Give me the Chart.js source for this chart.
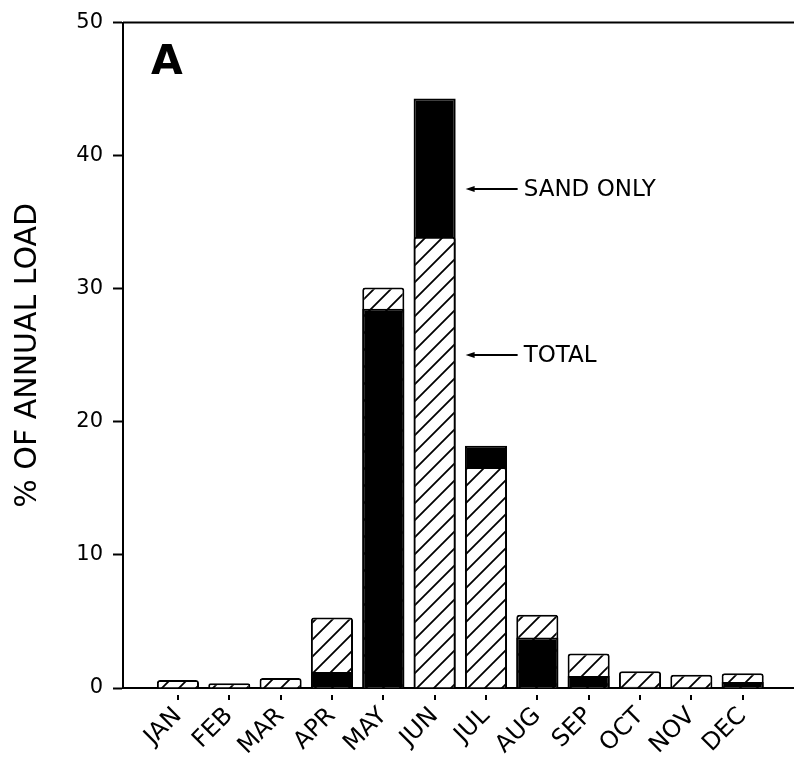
<!DOCTYPE html>
<html>
<head>
<meta charset="utf-8">
<title>Monthly sediment load</title>
<script src="https://cdn.jsdelivr.net/npm/chart.js@4.4.1/dist/chart.umd.min.js"></script>
<style>
  html, body { margin: 0; padding: 0; background: #fff; }
  #wrap { width: 794px; height: 767px; position: relative; }
</style>
</head>
<body>
<div id="wrap"><canvas id="loadChart"></canvas></div>
<script>
// ---- data ----
const months = ['JAN', 'FEB', 'MAR', 'APR', 'MAY', 'JUN', 'JUL', 'AUG', 'SEP', 'OCT', 'NOV', 'DEC'];
const totalLoad = [0.6, 0.35, 0.75, 5.3, 30.1, 33.9, 16.6, 5.5, 2.6, 1.25, 1.0, 1.1];
const sandLoad = [0, 0, 0, 1.2, 28.5, 44.3, 18.2, 3.8, 0.9, 0.1, 0, 0.45];
const yTickStep = 10;
const yMax = 50;
const panelLetter = 'A';
// callouts point at the JUN bars
const calloutMonth = 5;
const calloutLabels = ['SAND ONLY', 'TOTAL'];
const calloutLevels = [37.5, 25];

const FONT = '"DejaVu Sans", sans-serif';

// diagonal hatch used for the TOTAL bars
function makeHatch() {
    const size = 17;
    const c = document.createElement('canvas');
    c.width = size;
    c.height = size;
    const g = c.getContext('2d');
    g.fillStyle = '#fff';
    g.fillRect(0, 0, size, size);
    g.strokeStyle = '#000';
    g.lineWidth = 1.8;
    g.beginPath();
    [-size, 0, size].forEach(k => {
        g.moveTo(k - 2, size + 2);
        g.lineTo(k + size + 2, -2);
    });
    g.stroke();
    return g.createPattern(c, 'repeat');
}
const hatch = makeHatch();

// the shorter of the two bars is drawn in front of the taller one
const sandInFront = months.map((m, i) => sandLoad[i] <= totalLoad[i]);
const frontData = months.map((m, i) => ({ x: i, y: Math.min(totalLoad[i], sandLoad[i]) }));
const backData = months.map((m, i) => ({ x: i, y: Math.max(totalLoad[i], sandLoad[i]) }));

const isSandBar = (front, i) => front ? sandInFront[i] : !sandInFront[i];

function barStyle(front) {
    return {
        backgroundColor: ctx => isSandBar(front, ctx.dataIndex) ? '#000' : hatch,
        borderColor: '#000',
        borderWidth: 2,
        borderRadius: ctx => isSandBar(front, ctx.dataIndex) ? 0 : 3,
        grouped: false,
        barPercentage: 1,
        categoryPercentage: 0.82
    };
}

const decorations = {
    id: 'decorations',
    afterDatasetsDraw(chart) {
        const { ctx, chartArea, scales: { x, y } } = chart;
        ctx.save();
        ctx.strokeStyle = '#000';
        ctx.fillStyle = '#000';
        ctx.lineWidth = 2;

        // top frame line
        ctx.beginPath();
        ctx.moveTo(chartArea.left, chartArea.top);
        ctx.lineTo(chartArea.right + 1, chartArea.top);
        ctx.stroke();

        // small detached month ticks below the axis
        ctx.beginPath();
        months.forEach((m, i) => {
            const px = Math.round(x.getPixelForValue(i));
            ctx.moveTo(px, chartArea.bottom + 7);
            ctx.lineTo(px, chartArea.bottom + 12);
        });
        ctx.stroke();

        // panel letter
        ctx.font = 'bold 41px ' + FONT;
        ctx.textBaseline = 'alphabetic';
        ctx.textAlign = 'left';
        ctx.fillText(panelLetter, chartArea.left + 28, chartArea.top + 51);

        // callout arrows
        const barRight = x.getPixelForValue(calloutMonth) + 22;
        ctx.font = '23px ' + FONT;
        ctx.textBaseline = 'middle';
        calloutLabels.forEach((label, k) => {
            const py = Math.round(y.getPixelForValue(calloutLevels[k]));
            const tip = barRight + 9;
            const end = tip + 52;
            ctx.beginPath();
            ctx.moveTo(tip + 6, py);
            ctx.lineTo(end, py);
            ctx.lineWidth = 1.8;
            ctx.stroke();
            ctx.beginPath();
            ctx.moveTo(tip, py);
            ctx.lineTo(tip + 9, py - 3);
            ctx.lineTo(tip + 9, py + 3);
            ctx.closePath();
            ctx.fill();
            ctx.fillText(label, end + 6, py + 1);
        });
        ctx.restore();
    }
};

new Chart(document.getElementById('loadChart'), {
    type: 'bar',
    data: {
        datasets: [
            Object.assign({ label: 'front', data: frontData, order: 0 }, barStyle(true)),
            Object.assign({ label: 'back', data: backData, order: 1 }, barStyle(false))
        ]
    },
    options: {
        responsive: true,
        maintainAspectRatio: false,
        animation: false,
        devicePixelRatio: 1,
        layout: { padding: { top: 17, right: 1, left: 0, bottom: 0 } },
        plugins: {
            legend: { display: false },
            tooltip: { enabled: false }
        },
        scales: {
            x: {
                type: 'linear',
                offset: false,
                min: -1.07,
                max: 11.98,
                afterBuildTicks: scale => {
                    scale.ticks = months.map((m, i) => ({ value: i }));
                },
                afterFit: scale => { scale.height = 79; },
                ticks: {
                    autoSkip: false,
                    maxRotation: 45,
                    minRotation: 45,
                    padding: 4,
                    color: '#000',
                    font: { family: FONT, size: 24 },
                    callback: value => months[value] ?? ''
                },
                grid: {
                    display: true,
                    offset: false,
                    drawOnChartArea: false,
                    drawTicks: true,
                    tickLength: 10,
                    tickColor: 'rgba(0,0,0,0)'
                },
                border: { color: '#000', width: 2 }
            },
            y: {
                min: 0,
                max: yMax,
                afterFit: scale => { scale.width = 123; },
                ticks: {
                    stepSize: yTickStep,
                    padding: 10,
                    color: '#000',
                    font: { family: FONT, size: 21 }
                },
                grid: {
                    drawOnChartArea: false,
                    tickLength: 10,
                    tickWidth: 2,
                    tickColor: '#000'
                },
                border: { color: '#000', width: 2 },
                title: {
                    display: true,
                    text: '% OF ANNUAL LOAD',
                    color: '#000',
                    font: { family: FONT, size: 30 },
                    padding: { top: 10, bottom: 0 }
                }
            }
        }
    },
    plugins: [decorations]
});
</script>
</body>
</html>
